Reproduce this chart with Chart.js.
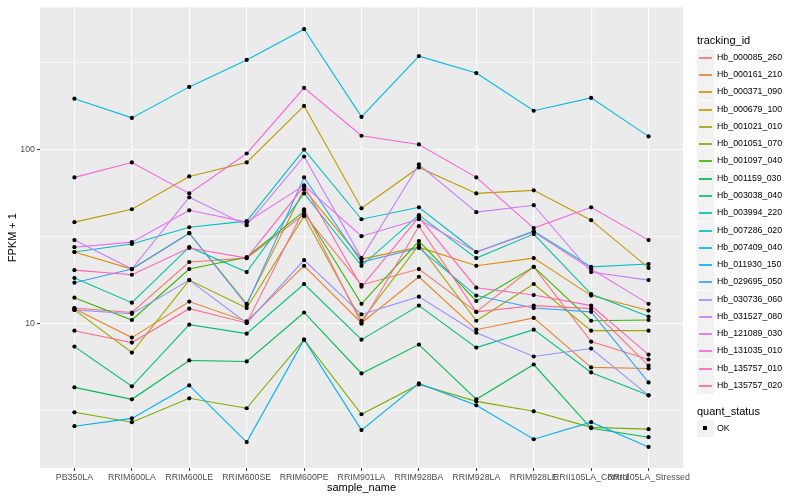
<!DOCTYPE html>
<html lang="en">
<head>
    <meta charset="UTF-8" />
    <title>FPKM por amostra</title>
    <script src="https://cdn.jsdelivr.net/npm/chart.js"></script>
    <style>
        body { margin: 0; background: #fff; font-family: "Liberation Sans", Arial, sans-serif; }
        #wrap { position: relative; width: 800px; height: 500px; }
        #grafico { position: absolute; left: 0; top: 0; }
        .leg-titulo { position: absolute; left: 697px; font-size: 11px; line-height: 13px; color: #000; white-space: nowrap; }
        .leg-item { position: absolute; left: 697px; height: 17px; white-space: nowrap; }
        .leg-key { position: absolute; left: 0; top: 0; width: 17px; height: 17px; background: #F2F2F2; }
        .leg-line { position: absolute; left: 2px; top: 7.5px; width: 13px; height: 2px; opacity: 0.85; }
        .leg-dot { position: absolute; left: 6px; top: 6px; width: 4px; height: 4px; background: #000; }
        .leg-txt { position: absolute; left: 20px; top: 0; font-size: 8.8px; line-height: 17px; color: #000; }
    </style>
</head>

<body>
    <div id="wrap">
        <canvas id="grafico" width="800" height="500"></canvas>
        <div id="legenda"></div>
    </div>
    <script>
        const samples = ['PB350LA', 'RRIM600LA', 'RRIM600LE', 'RRIM600SE', 'RRIM600PE', 'RRIM901LA',
            'RRIM928BA', 'RRIM928LA', 'RRIM928LE', 'RRII105LA_Control', 'RRII105LA_Stressed'];

        const trackingIds = ['Hb_000085_260', 'Hb_000161_210', 'Hb_000371_090', 'Hb_000679_100', 'Hb_001021_010',
            'Hb_001051_070', 'Hb_001097_040', 'Hb_001159_030', 'Hb_003038_040', 'Hb_003994_220',
            'Hb_007286_020', 'Hb_007409_040', 'Hb_011930_150', 'Hb_029695_050', 'Hb_030736_060',
            'Hb_031527_080', 'Hb_121089_030', 'Hb_131035_010', 'Hb_135757_010', 'Hb_135757_020'];

        const cores = ['#F8766D', '#EA8331', '#D89000', '#C09B00', '#A3A500', '#7CAE00', '#39B600', '#00BB4E',
            '#00BF7D', '#00C1A3', '#00BFC4', '#00BAE0', '#00B0F6', '#35A2FF', '#9590FF', '#C77CFF',
            '#E76BF3', '#FA62DB', '#FF62BC', '#FF6C91'];

        // FPKM + 1, one value per sample
        const hb_000085_260 = [12.3, 11.6, 22.6, 23.8, 42.5, 16.7, 20.6, 11.7, 21.2, 7.89, 6.23];
        const hb_000161_210 = [12.2, 8.32, 13.4, 10.3, 21.5, 10.1, 18.6, 9.24, 10.8, 5.61, 5.53];
        const hb_000371_090 = [25.8, 20.6, 33.1, 13.0, 59.1, 23.5, 27.5, 21.5, 23.8, 14.5, 11.9];
        const hb_000679_100 = [38.3, 45.4, 70.1, 84.3, 178, 46.0, 78.9, 56.0, 58.3, 39.3, 20.9];
        const hb_001021_010 = [12.0, 6.83, 17.8, 12.3, 41.4, 10.4, 28.3, 10.4, 16.9, 9.12, 9.12];
        const hb_001051_070 = [3.10, 2.72, 3.73, 3.27, 8.10, 3.02, 4.48, 3.58, 3.14, 2.54, 2.48];
        const hb_001097_040 = [14.1, 10.5, 20.6, 24.1, 44.2, 13.0, 29.8, 13.5, 21.2, 10.4, 10.5];
        const hb_001159_030 = [4.31, 3.68, 6.15, 6.07, 11.6, 5.18, 7.59, 3.68, 5.83, 2.51, 2.23];
        const hb_003038_040 = [7.39, 4.37, 9.87, 8.77, 16.9, 8.10, 12.7, 7.29, 9.24, 5.25, 3.88];
        const hb_003994_220 = [18.3, 13.2, 27.5, 19.8, 56.0, 21.5, 42.0, 23.8, 32.7, 14.8, 11.0];
        const hb_007286_020 = [25.8, 28.7, 35.8, 38.8, 100, 39.8, 46.6, 25.8, 34.0, 21.2, 22.0];
        const hb_007409_040 = [196, 152, 229, 327, 491, 154, 344, 275, 167, 198, 119];
        const hb_011930_150 = [2.58, 2.86, 4.42, 2.09, 8.10, 2.45, 4.54, 3.40, 2.17, 2.72, 1.96];
        const hb_029695_050 = [17.2, 20.6, 33.1, 12.8, 69.2, 22.6, 27.2, 14.5, 12.3, 11.7, 4.60];
        const hb_030736_060 = [12.0, 11.4, 17.8, 10.1, 23.2, 11.3, 14.3, 8.88, 6.48, 7.20, 3.88];
        const hb_031527_080 = [30.2, 20.6, 53.2, 36.8, 91.2, 23.8, 82.1, 43.7, 47.9, 19.8, 17.8];
        const hb_121089_030 = [27.5, 29.4, 44.8, 38.3, 62.3, 31.8, 39.8, 25.8, 33.6, 20.6, 13.0];
        const hb_131035_010 = [69.2, 84.3, 56.0, 94.9, 226, 120, 107, 69.2, 35.4, 46.6, 30.2];
        const hb_135757_010 = [20.3, 19.1, 27.2, 23.8, 61.5, 16.3, 40.9, 16.1, 14.6, 12.7, 6.65];
        const hb_135757_020 = [9.12, 7.79, 12.2, 10.1, 45.4, 10.0, 36.3, 11.7, 12.7, 12.2, 5.75];

        const yTicks = [3.1623, 10, 31.623, 100, 316.23];
        const yTickLabels = ['', '10', '', '100', ''];

        const series = [hb_000085_260, hb_000161_210, hb_000371_090, hb_000679_100, hb_001021_010,
            hb_001051_070, hb_001097_040, hb_001159_030, hb_003038_040, hb_003994_220,
            hb_007286_020, hb_007409_040, hb_011930_150, hb_029695_050, hb_030736_060,
            hb_031527_080, hb_121089_030, hb_131035_010, hb_135757_010, hb_135757_020];

        const fonte = '"Liberation Sans", Arial, sans-serif';
        Chart.defaults.font.family = fonte;

        const pontos = [];
        series.forEach(function (s) {
            s.forEach(function (v, i) { pontos.push({ x: i, y: v }); });
        });

        const datasets = series.map(function (s, k) {
            return {
                label: trackingIds[k],
                data: s.map(function (v, i) { return { x: i, y: v }; }),
                borderColor: cores[k],
                borderWidth: 1.1,
                pointRadius: 0,
                fill: false,
                tension: 0,
                order: series.length - k + 1
            };
        });
        datasets.push({
            label: 'OK',
            data: pontos,
            showLine: false,
            pointRadius: 2.1,
            pointBackgroundColor: '#000',
            pointBorderWidth: 0,
            order: 0
        });

        const fundoPainel = {
            id: 'fundoPainel',
            beforeDraw(chart) {
                const a = chart.chartArea;
                const c = chart.ctx;
                c.save();
                c.fillStyle = '#EBEBEB';
                c.fillRect(a.left, a.top, a.right - a.left, a.bottom - a.top);
                c.restore();
            }
        };

        new Chart(document.getElementById('grafico'), {
            type: 'line',
            data: { datasets: datasets },
            plugins: [fundoPainel],
            options: {
                responsive: false,
                animation: false,
                layout: { padding: { left: 0, right: 117, top: 5, bottom: 0 } },
                plugins: { legend: { display: false }, tooltip: { enabled: false } },
                scales: {
                    x: {
                        type: 'linear',
                        min: -0.6,
                        max: samples.length - 0.4,
                        afterBuildTicks: function (s) { s.ticks = samples.map(function (_, i) { return { value: i }; }); },
                        afterFit: function (s) { s.height = 32; },
                        ticks: {
                            autoSkip: false, maxRotation: 0, minRotation: 0, padding: 1,
                            color: '#4D4D4D', font: { size: 8.8 },
                            callback: function (v) { return samples[v]; }
                        },
                        grid: { color: '#FFFFFF', lineWidth: 1.1, tickLength: 3, tickColor: '#333333', tickWidth: 1 },
                        border: { display: false },
                        title: { display: true, text: 'sample_name', color: '#000', font: { size: 11 }, padding: { top: 0, bottom: 5.4 } }
                    },
                    y: {
                        type: 'logarithmic',
                        min: 1.484,
                        max: 656,
                        afterBuildTicks: function (s) { s.ticks = yTicks.map(function (v) { return { value: v }; }); },
                        afterFit: function (s) { s.width = 40; },
                        ticks: {
                            padding: 2, color: '#4D4D4D', font: { size: 8.8 },
                            callback: function (v, i) { return yTickLabels[i]; }
                        },
                        grid: {
                            color: '#FFFFFF',
                            lineWidth: function (c) { return yTickLabels[c.index] ? 1.1 : 0.55; },
                            tickLength: 3,
                            tickWidth: 1,
                            tickColor: function (c) { return yTickLabels[c.index] ? '#333333' : 'rgba(0,0,0,0)'; }
                        },
                        border: { display: false },
                        title: { display: true, text: 'FPKM + 1', color: '#000', font: { size: 11 }, padding: { top: 6.4, bottom: 0 } }
                    }
                }
            }
        });

        // legenda no estilo do ggplot
        const legenda = document.getElementById('legenda');
        let html = '<div class="leg-titulo" style="top:34px">tracking_id</div>';
        for (let i = 0; i < trackingIds.length; i++) {
            const topo = Math.round(48.7 + i * 17.28);
            html += '<div class="leg-item" style="top:' + topo + 'px"><div class="leg-key"><div class="leg-line" style="background:' +
                cores[i] + '"></div></div><div class="leg-txt">' + trackingIds[i] + '</div></div>';
        }
        html += '<div class="leg-titulo" style="top:405px">quant_status</div>';
        html += '<div class="leg-item" style="top:420px"><div class="leg-key"><div class="leg-dot"></div></div><div class="leg-txt">OK</div></div>';
        legenda.innerHTML = html;
    </script>
</body>
</html>
